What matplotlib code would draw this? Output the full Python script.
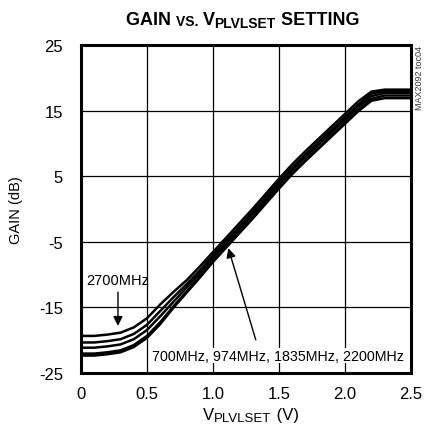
import matplotlib.pyplot as plt

# set voltage points (V)
v_set = [0, 0.1, 0.2, 0.3, 0.4, 0.5, 0.6, 0.7, 0.8, 0.9, 1.0, 1.1, 1.2,
         1.3, 1.4, 1.5, 1.6, 1.7, 1.8, 1.9, 2.0, 2.1, 2.2, 2.3, 2.4, 2.5]

# gain (dB) per frequency
gain_2700 = [-19.4, -19.4, -19.2, -18.9, -18.1, -16.7, -14.6, -12.7, -10.9, -8.8, -6.6, -4.4, -2.2,
             0.0, 2.3, 4.6, 6.8, 8.8, 10.7, 12.6, 14.5, 16.4, 17.9, 18.2, 18.2, 18.2]
gain_700 = [-20.4, -20.4, -20.2, -19.9, -19.1, -17.7, -15.6, -13.5, -11.5, -9.4, -7.1, -4.9, -2.7,
            -0.5, 1.8, 4.1, 6.3, 8.3, 10.2, 12.1, 14.0, 15.9, 17.6, 18.0, 18.0, 18.0]
gain_974 = [-21.2, -21.2, -21.0, -20.7, -19.9, -18.5, -16.4, -14.2, -12.0, -9.8, -7.5, -5.3, -3.1,
            -0.9, 1.4, 3.7, 5.9, 7.9, 9.8, 11.7, 13.6, 15.5, 17.2, 17.7, 17.7, 17.7]
gain_1835 = [-22.1, -22.1, -21.9, -21.6, -20.8, -19.4, -17.3, -14.9, -12.6, -10.3, -8.0, -5.8, -3.6,
             -1.4, 0.9, 3.2, 5.4, 7.4, 9.3, 11.2, 13.1, 15.0, 16.8, 17.3, 17.3, 17.3]
gain_2200 = [-22.4, -22.4, -22.2, -21.9, -21.1, -19.7, -17.6, -15.1, -12.8, -10.5, -8.1, -5.9, -3.7,
             -1.5, 0.8, 3.1, 5.3, 7.3, 9.2, 11.1, 13.0, 14.9, 16.5, 16.9, 16.9, 16.9]

x_ticks = [0, 0.5, 1.0, 1.5, 2.0, 2.5]
x_ticklabels = ["0", "0.5", "1.0", "1.5", "2.0", "2.5"]
y_ticks = [-25, -15, -5, 5, 15, 25]

plt.rcParams["font.family"] = ["Liberation Sans", "DejaVu Sans"]
plt.rcParams["axes.unicode_minus"] = False

fig = plt.figure(figsize=(4.25, 4.39), dpi=100)
ax = fig.add_axes([0.1906, 0.149, 0.7765, 0.746])

for g in [gain_2700, gain_700, gain_974, gain_1835, gain_2200]:
    ax.plot(v_set, g, color="black", lw=1.8, solid_joinstyle="round")

ax.set_xlim(0, 2.5)
ax.set_ylim(-25, 25)
ax.set_xticks(x_ticks)
ax.set_xticklabels(x_ticklabels)
ax.set_yticks(y_ticks)
ax.tick_params(length=0, labelsize=12)
ax.tick_params(axis="y", pad=13)
ax.tick_params(axis="x", pad=10)
ax.grid(True, color="black", lw=0.9)
for s in ax.spines.values():
    s.set_linewidth(2.2)

ax.set_ylabel("GAIN (dB)", fontsize=10.5)
ax.yaxis.set_label_coords(-0.175, 0.5)

# annotations
ax.text(0.28, -10.8, "2700MHz", fontsize=10.5, ha="center", va="center")
ax.annotate("", xy=(0.28, -18.3), xytext=(0.28, -12.3),
            arrowprops=dict(arrowstyle="-|>", color="black", lw=1, mutation_scale=14))
ax.text(1.49, -22.4, "700MHz, 974MHz, 1835MHz, 2200MHz", fontsize=10.3, ha="center", va="center",
        bbox=dict(facecolor="white", edgecolor="none", pad=0.5))
ax.annotate("", xy=(1.11, -5.6), xytext=(1.33, -20.4),
            arrowprops=dict(arrowstyle="-|>", color="black", lw=1, mutation_scale=14))

# title built from pieces with different sizes
t1 = fig.text(0.297, 0.943, "GAIN ", fontsize=13, fontweight="bold", va="baseline")
t2 = ax.annotate("VS. ", xy=(1, 0), xycoords=t1, fontsize=10, fontweight="bold", va="bottom")
t3 = ax.annotate("V", xy=(1, 0), xycoords=t2, fontsize=13, fontweight="bold", va="bottom")
t4 = ax.annotate("PLVLSET", xy=(1, 0), xycoords=t3, xytext=(0, -1.5), textcoords="offset points",
                 fontsize=10, fontweight="bold", va="bottom")
ax.annotate(" SETTING", xy=(1, 0), xycoords=t4, xytext=(0, 1.5), textcoords="offset points",
            fontsize=13, fontweight="bold", va="bottom")

# x label with subscript-like part
x1 = fig.text(0.478, 0.043, "V", fontsize=12, va="baseline")
x2 = ax.annotate("PLVLSET", xy=(1, 0), xycoords=x1, xytext=(0, -1.5), textcoords="offset points",
                 fontsize=9.5, va="bottom")
ax.annotate(" (V)", xy=(1, 0), xycoords=x2, xytext=(0, 1.5), textcoords="offset points",
            fontsize=12, va="bottom")

fig.text(0.988, 0.895, "MAX2092 toc04", fontsize=6.5, rotation=90, ha="center", va="top",
         color="#333333")

fig.savefig("out.png", dpi=100)
